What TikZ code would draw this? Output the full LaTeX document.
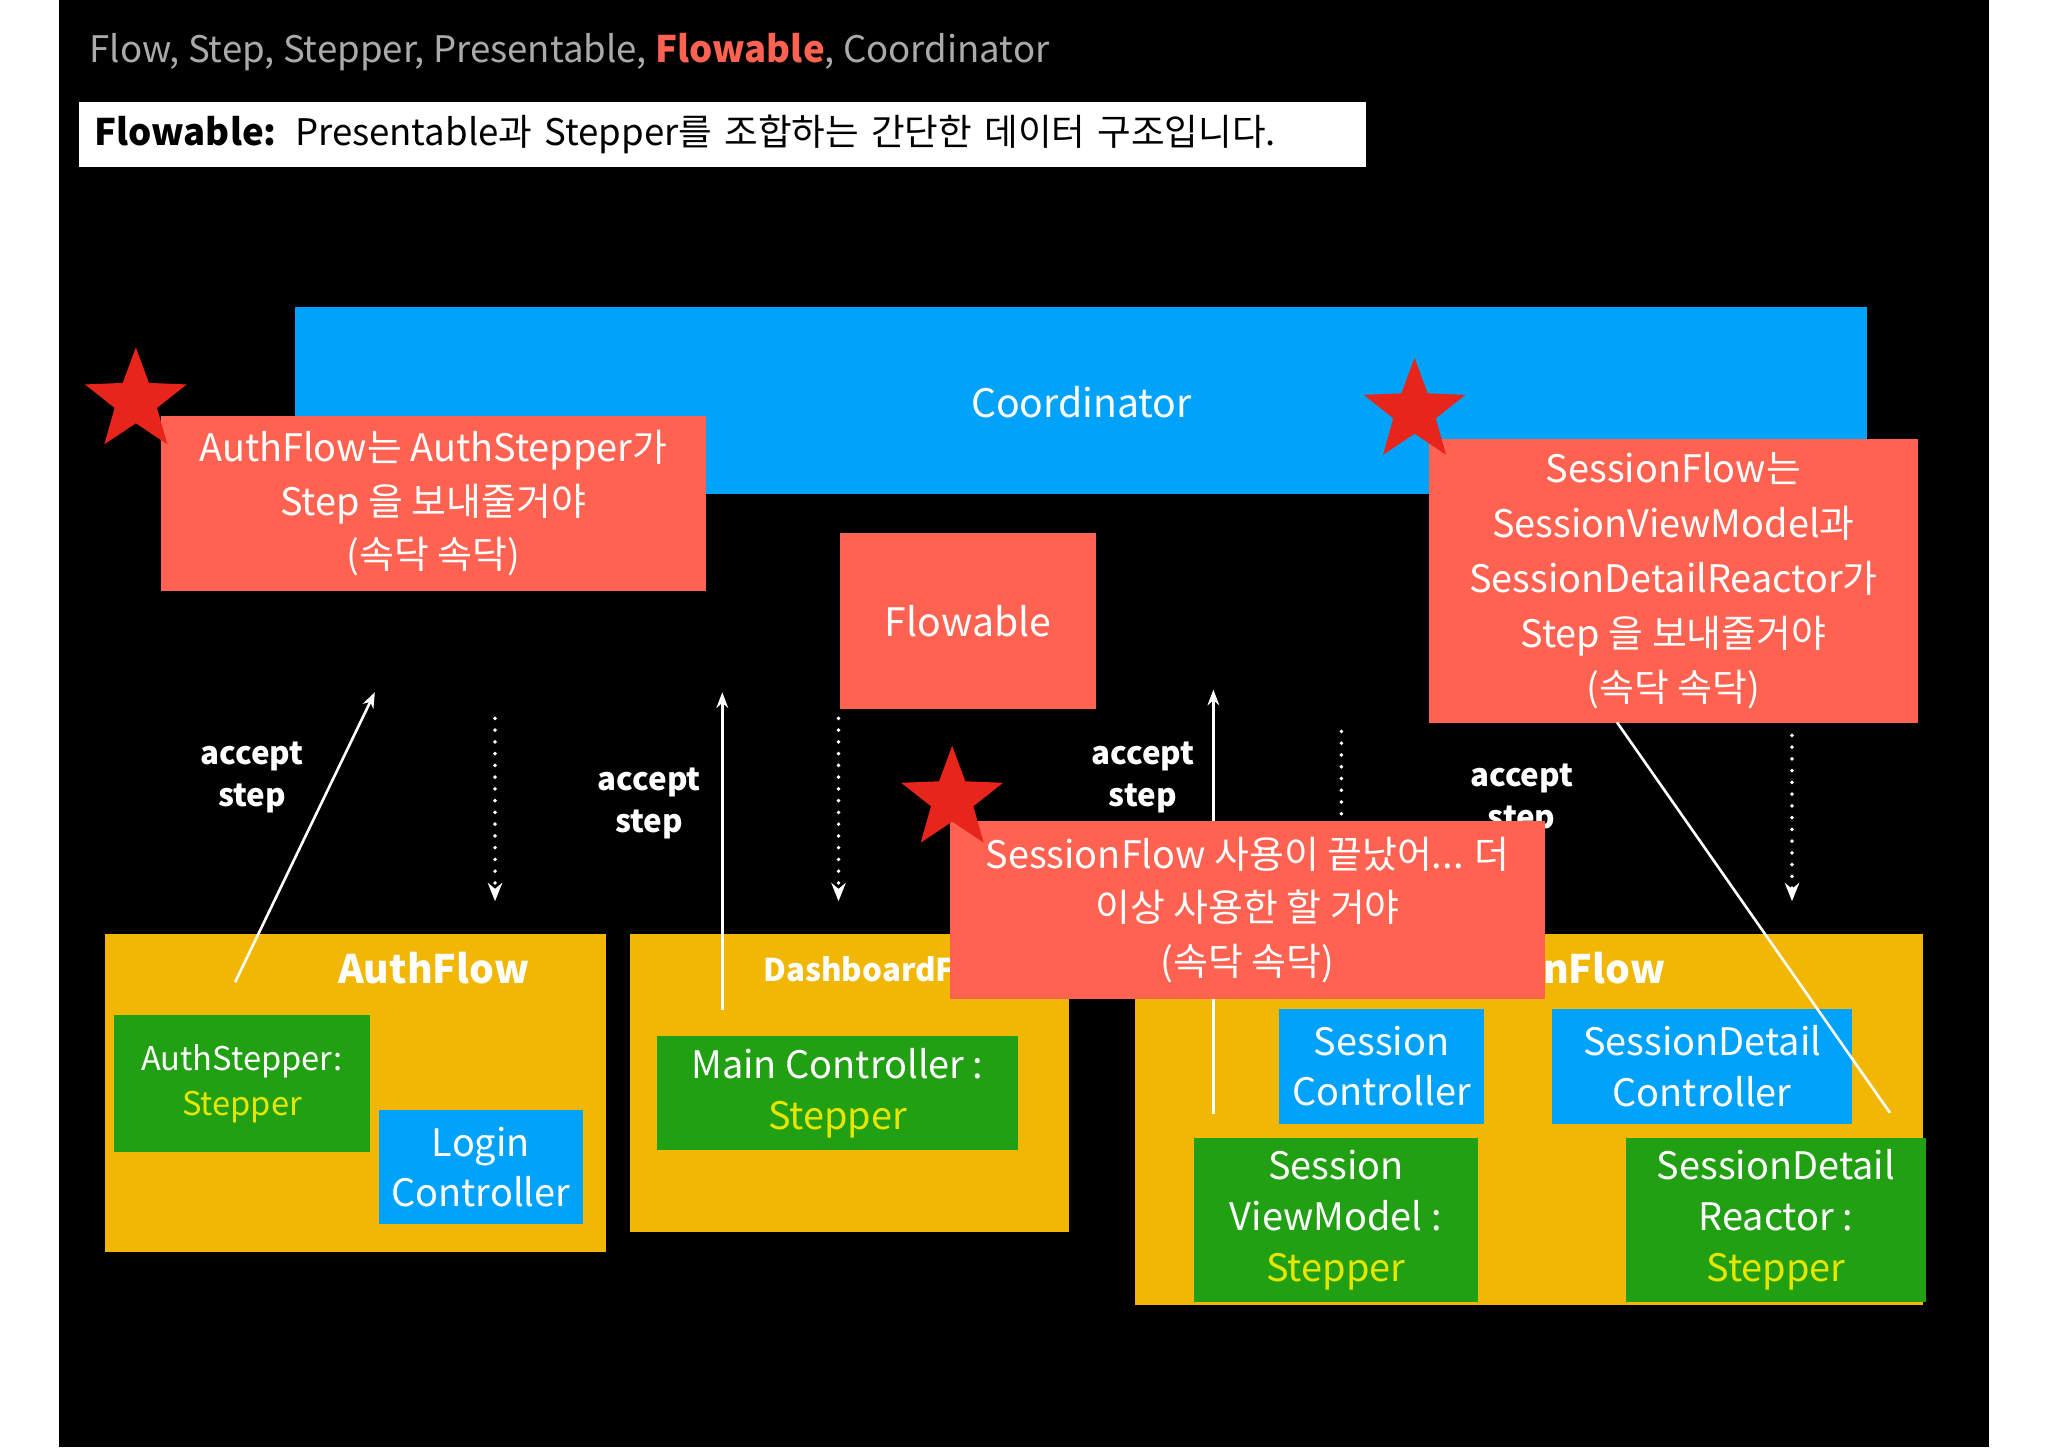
\documentclass[tikz,border=0pt]{standalone}
\usepackage{fontspec}
\setmainfont{Noto Sans CJK KR}
\usetikzlibrary{shapes.geometric,arrows.meta}
\definecolor{cblue}{RGB}{0,162,250}
\definecolor{cnote}{RGB}{255,98,80}
\definecolor{corange}{RGB}{242,183,5}
\definecolor{cgreen}{RGB}{34,160,20}
\definecolor{cyel}{RGB}{230,230,0}
\definecolor{cstar}{RGB}{232,37,26}
\definecolor{cgray}{RGB}{170,170,170}
\tikzset{
 box/.style={inner sep=0pt, align=center, text=white, font=\fontsize{28}{38}\selectfont},
 note/.style={box, fill=cnote},
 bluebox/.style={box, fill=cblue},
 greenbox/.style={box, fill=cgreen},
 orangebox/.style={fill=corange},
 redstar/.style={star, star points=5, star point ratio=2.4, fill=cstar, minimum size=82pt, inner sep=0pt},
 acc/.style={white, align=center, font=\fontsize{24}{32}\selectfont\bfseries},
 solidarrow/.style={white, line width=2pt, -{Stealth[length=12pt,width=9pt]}},
 dotline/.style={white, line width=3pt, line cap=round, dash pattern=on 0pt off 9pt},
 dotarrow/.style={dotline, -{Stealth[length=14pt,width=11pt]}},
}
\newcommand{\yl}[1]{\textcolor{cyel}{#1}}
\begin{document}
\begin{tikzpicture}[x=1pt,y=-1pt]
\useasboundingbox (0,0) rectangle (1568,1108);
\fill[white] (0,0) rectangle (1568,1108);
\fill[black] (45,0) rectangle (1523,1108);
% header
\node[anchor=west, text=cgray, font=\fontsize{28}{32}\selectfont] (hdr) at (65,40) {Flow, Step, Stepper, Presentable, \textcolor{cnote}{\bfseries Flowable}, Coordinator};
\node[fill=white, anchor=north west, minimum width=986pt, minimum height=50pt, inner sep=0pt, text width=986pt, align=left, font=\fontsize{28}{32}\selectfont] (sub) at (60,78) {\hspace*{12pt}\bfseries Flowable: \mdseries Presentable과 Stepper를 조합하는 간단한 데이터 구조입니다.};
% coordinator
\node[bluebox, anchor=north west, minimum width=1203pt, minimum height=143pt] (coord) at (226,235) {};
\node[box, font=\fontsize{30}{38}\selectfont] (coordt) at (828,308) {Coordinator};
% auth note
\node[note, anchor=north west, minimum width=417pt, minimum height=134pt, font=\fontsize{29}{41}\selectfont] (authnote) at (123,318) {AuthFlow는 AuthStepper가\\Step 을 보내줄거야\\(속닥 속닥)};
\node[redstar] (s1) at (104,307) {};
% flowable
\node[note, anchor=north west, minimum width=196pt, minimum height=135pt, font=\fontsize{30}{38}\selectfont] (flowable) at (643,408) {Flowable};
% session note
\node[note, anchor=north west, minimum width=374pt, minimum height=217pt, font=\fontsize{29}{42}\selectfont] (sessnote) at (1094,336) {SessionFlow는\\SessionViewModel과\\SessionDetailReactor가\\Step 을 보내줄거야\\(속닥 속닥)};
\node[redstar] (s2) at (1083,315) {};
% AuthFlow
\node[orangebox, anchor=north west, minimum width=384pt, minimum height=243pt, inner sep=0pt] (authflow) at (80,715) {};
\node[box, font=\fontsize{30}{36}\selectfont\bfseries] (authflowt) at (332,741) {AuthFlow};
\node[greenbox, anchor=north west, minimum width=196pt, minimum height=105pt, font=\fontsize{25}{34}\selectfont] (authstep) at (87,777) {AuthStepper:\\\yl{Stepper}};
\node[bluebox, anchor=north west, minimum width=156pt, minimum height=87pt, font=\fontsize{29}{38}\selectfont] (login) at (290,850) {Login\\Controller};
% Dashboard
\node[orangebox, anchor=north west, minimum width=336pt, minimum height=228pt, inner sep=0pt] (dash) at (482,715) {};
\node[box, font=\fontsize{24}{30}\selectfont\bfseries] (dasht) at (680,742) {DashboardFlow};
\node[greenbox, anchor=north west, minimum width=276pt, minimum height=87pt, font=\fontsize{29}{39}\selectfont] (mainc) at (503,793) {Main Controller :\\\yl{Stepper}};
% SessionFlow
\node[orangebox, anchor=north west, minimum width=603pt, minimum height=284pt, inner sep=0pt] (sessflow) at (869,715) {};
\node[box, font=\fontsize{30}{36}\selectfont\bfseries] (sessflowt) at (1180,741) {SessionFlow};
\node[bluebox, anchor=north west, minimum width=157pt, minimum height=88pt, font=\fontsize{29}{39}\selectfont] (sessc) at (979,772) {Session\\Controller};
\node[bluebox, anchor=north west, minimum width=230pt, minimum height=88pt, font=\fontsize{29}{39}\selectfont] (sdc) at (1188,772) {SessionDetail\\Controller};
\node[greenbox, anchor=north west, minimum width=217pt, minimum height=126pt, font=\fontsize{29}{39}\selectfont] (svm) at (914,871) {Session\\ViewModel :\\\yl{Stepper}};
\node[greenbox, anchor=north west, minimum width=229pt, minimum height=126pt, font=\fontsize{29}{39}\selectfont] (sdr) at (1245,871) {SessionDetail\\Reactor :\\\yl{Stepper}};
% arrows
\coordinate (a1s) at (180,752); \coordinate (a1e) at (287,530);
\draw[solidarrow] (a1s) -- (a1e);
\node[acc] (l1) at (193,595) {accept\\step};
\coordinate (d1s) at (379,550); \coordinate (d1e) at (379,690);
\draw[dotarrow] (d1s) -- (d1e);
\coordinate (a2s) at (553,773); \coordinate (a2e) at (553,530);
\draw[solidarrow] (a2s) -- (a2e);
\node[acc] (l2) at (497,615) {accept\\step};
\coordinate (d2s) at (642,550); \coordinate (d2e) at (642,690);
\draw[dotarrow] (d2s) -- (d2e);
\coordinate (a3s) at (929,853); \coordinate (a3e) at (929,528);
\draw[solidarrow] (a3s) -- (a3e);
\node[acc] (l3) at (875,595) {accept\\step};
\coordinate (d3s) at (1027,560); \coordinate (d3e) at (1027,640);
\draw[dotline] (d3s) -- (d3e);
\node[acc] (l4) at (1165,612) {accept\\step};
\coordinate (ls) at (1238,553); \coordinate (le) at (1447,852);
\draw[white, line width=2pt] (ls) -- (le);
\coordinate (d4s) at (1372,563); \coordinate (d4e) at (1372,690);
\draw[dotarrow] (d4s) -- (d4e);
% overlay note
\node[note, anchor=north west, minimum width=456pt, minimum height=137pt, font=\fontsize{29}{41}\selectfont] (endnote) at (727,628) {SessionFlow 사용이 끝났어... 더\\이상 사용한 할 거야\\(속닥 속닥)};
\node[redstar] (s3) at (729,612) {};
\end{tikzpicture}
\end{document}
